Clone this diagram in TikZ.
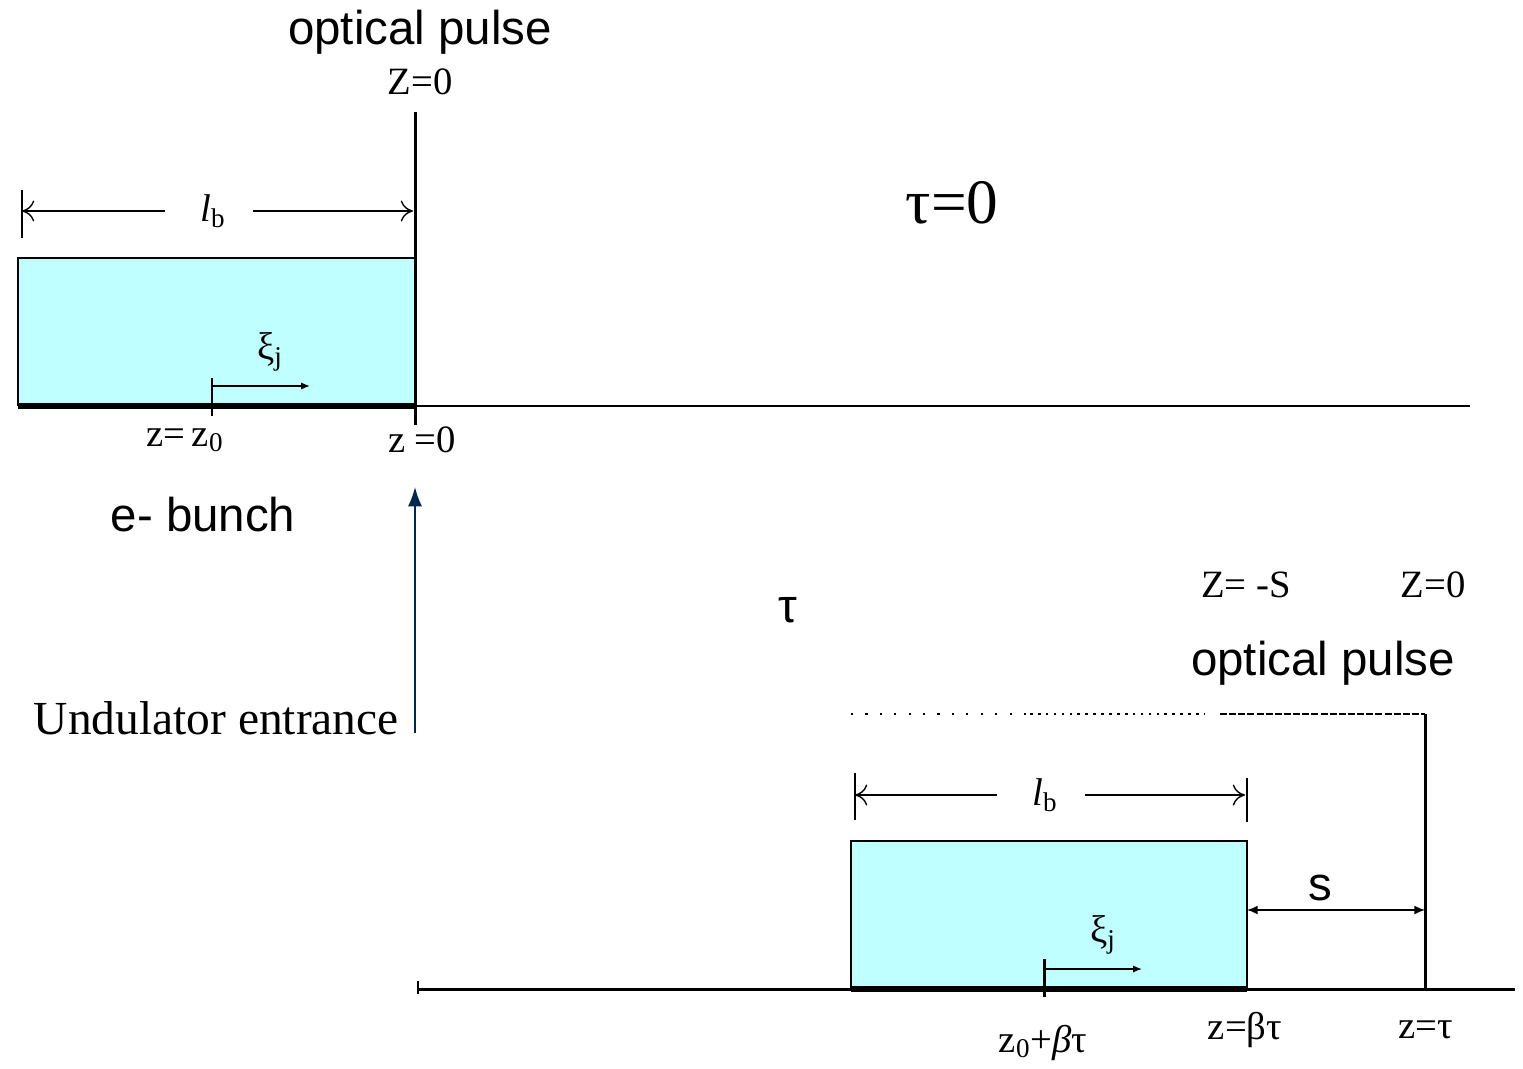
\documentclass[tikz,border=0pt]{standalone}
\usepackage{fontspec}
\setmainfont{Liberation Serif}
\setsansfont{Liberation Sans}
\usetikzlibrary{arrows.meta,shapes}
\definecolor{bunchcyan}{HTML}{C0FFFF}
\definecolor{navyarrow}{HTML}{00284F}

\begin{document}
\begin{tikzpicture}[
    axisline/.style={line width=1.7pt},
    tickline/.style={line width=1.7pt},
    dimline/.style={line width=0.8pt},
    opentip/.style={-{To[length=7pt,width=12pt]}},
    xitip/.style={-{Latex[length=5pt,width=4pt]}},
    sanslabel/.style={font=\sffamily\fontsize{27}{30}\selectfont},
    seriflabel/.style={font=\fontsize{22}{24}\selectfont},
    bigserif/.style={font=\fontsize{27}{30}\selectfont}
]
\useasboundingbox (0,0) rectangle (30.46,-21.36);
%% tau = 0
\coordinate (axL) at (0.36,-8.12);
\coordinate (axR) at (29.4,-8.12);
\coordinate (boxTL) at (0.36,-5.16);
\coordinate (zeroT) at (8.3,-2.24);
\coordinate (zeroB) at (8.3,-8.5);
\coordinate (zeroA) at (8.3,-8.12);
\coordinate (tkT) at (4.24,-7.56);
\coordinate (tkB) at (4.24,-8.32);
\coordinate (xiS) at (4.24,-7.72);
\coordinate (xiE) at (6.2,-7.72);
\coordinate (lbT) at (0.44,-3.8);
\coordinate (lbB) at (0.44,-4.76);
\coordinate (lbL) at (0.44,-4.22);
\coordinate (lbR) at (8.26,-4.22);
\fill[bunchcyan] (boxTL) rectangle (zeroA);
\draw[line width=0.6pt] (axL) |- (boxTL) -- (8.3,-5.16);
\draw[axisline] (axL) -- (axR);
\draw[line width=3pt] (axL) -- (zeroA);
\draw[axisline] (zeroT) -- (zeroB);
\draw[tickline] (tkT) -- (tkB);
\draw[dimline,xitip] (xiS) -- (xiE);
\draw[dimline] (lbT) -- (lbB);
\node[seriflabel] (lbtop) at (4.26,-4.22) {\textit{l}\textsubscript{b}};
\draw[dimline,opentip] (3.3,-4.22) -- (lbL);
\draw[dimline,opentip] (5.06,-4.22) -- (lbR);
\node[seriflabel] (xitop) at (5.4,-7.04) {ξ\textsubscript{j}};
\node[sanslabel] (optop) at (8.4,-0.64) {optical pulse};
\node[seriflabel] (Ztop) at (8.4,-1.64) {Z=0};
\node[seriflabel] (zz0) at (3.7,-8.8) {z=\,z\textsubscript{0}};
\node[seriflabel] (zeq0) at (8.44,-8.8) {z =0};
\node[sanslabel] (ebunch) at (4.06,-10.3) {e- bunch};
\node[font=\fontsize{36}{40}\selectfont] (tauzero) at (19.04,-4.06) {τ=0};
%% undulator entrance
\node[bigserif,anchor=east] (undent) at (8.1,-14.36) {Undulator entrance};
\coordinate (entB) at (8.3,-14.66);
\coordinate (entT) at (8.3,-9.74);
\draw[navyarrow,line width=0.9pt,-{Latex[length=11pt,width=8pt]}] (entB) -- (entT);
\node[sanslabel] (taumid) at (15.76,-12.2) {τ};
%% tau > 0
\coordinate (bxL) at (8.36,-19.78);
\coordinate (bxR) at (30.3,-19.78);
\coordinate (bbTL) at (17.02,-16.82);
\coordinate (bbBL) at (17.02,-19.78);
\coordinate (bbBR) at (24.94,-19.78);
\coordinate (bbTR) at (24.94,-16.82);
\coordinate (pulT) at (28.5,-14.28);
\coordinate (pulB) at (28.5,-19.78);
\fill[bunchcyan] (bbTL) rectangle (bbBR);
\draw[line width=0.6pt] (bbBL) -- (bbTL) -- (bbTR) -- (bbBR);
\draw[axisline] (bxL) -- (bxR);
\draw[line width=1.2pt] (8.36,-19.62) -- (8.36,-19.88);
\draw[line width=3pt] (bbBL) -- (bbBR);
\draw[tickline] (20.88,-19.18) -- (20.88,-19.94);
\draw[dimline,xitip] (20.88,-19.38) -- (22.84,-19.38);
\node[seriflabel] (xibot) at (22.06,-18.7) {ξ\textsubscript{j}};
\draw[dimline] (17.1,-15.46) -- (17.1,-16.4);
\draw[dimline] (24.94,-15.56) -- (24.94,-16.44);
\node[seriflabel] (lbbot) at (20.9,-15.9) {\textit{l}\textsubscript{b}};
\draw[dimline,opentip] (19.94,-15.9) -- (17.1,-15.9);
\draw[dimline,opentip] (21.7,-15.9) -- (24.9,-15.9);
\draw[line width=0.8pt,dash pattern=on 1.2pt off 7pt] (bbTL|-pulT) -- (20.6,-14.28);
\draw[line width=0.8pt,dash pattern=on 1.5pt off 3pt] (20.6,-14.28) -- (24.1,-14.28);
\draw[line width=0.8pt,dash pattern=on 4pt off 1.2pt] (24.4,-14.28) -- (pulT);
\draw[axisline] (pulT) -- (pulB);
\draw[dimline,{Latex[length=6pt,width=5pt]}-{Latex[length=6pt,width=5pt]}] (bbTR|-0,-18.2) -- (28.5,-18.2);
\node[sanslabel] (sgap) at (26.4,-17.76) {s};
\node[seriflabel] (Zms) at (24.92,-11.7) {Z= -S};
\node[seriflabel] (Zbot) at (28.66,-11.7) {Z=0};
\node[sanslabel] (opbot) at (26.46,-13.26) {optical pulse};
\node[seriflabel] (z0bt) at (20.86,-20.86) {z\textsubscript{0}+\textit{β}τ};
\node[seriflabel] (zbt) at (24.9,-20.6) {z=βτ};
\node[seriflabel] (zt) at (28.52,-20.6) {z=τ};
\end{tikzpicture}
\end{document}
